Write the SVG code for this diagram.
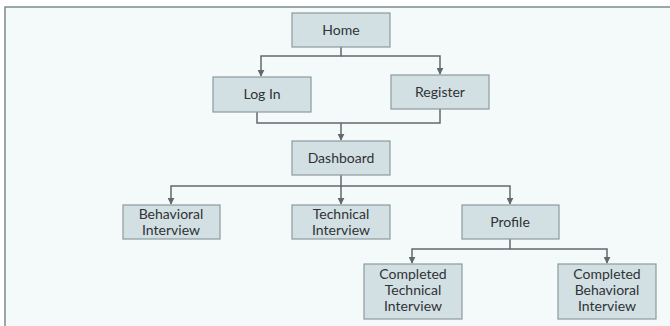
<svg xmlns="http://www.w3.org/2000/svg" width="670" height="326" viewBox="0 0 670 326">
<defs>
<style>
.box{fill:#d2dfe3;stroke:#8c9a9d;stroke-width:1.2}
.t{font-family:Lato,"Open Sans","Liberation Sans",sans-serif;font-size:14px;fill:#2f3335;text-anchor:middle}
.c{fill:none;stroke:#5f6a6d;stroke-width:1.5}
</style>
<marker id="ah" viewBox="0 0 10 10" refX="9" refY="5" markerWidth="7" markerHeight="7" markerUnits="userSpaceOnUse" orient="auto"><path d="M0,0 L10,5 L0,10 z" fill="#5f6a6d"/></marker>
</defs>
<rect x="0" y="0" width="670" height="326" fill="#ffffff"/>
<rect x="5" y="7" width="680" height="330" fill="#f4f9f9" stroke="#7d8a8c" stroke-width="1.5"/>
<g id="connectors">
<path class="c" d="M341,47 V56 H261 V76" marker-end="url(#ah)"/>
<path class="c" d="M341,56 H440 V74" marker-end="url(#ah)"/>
<path class="c" d="M257,112 V123 H440 V109"/>
<path class="c" d="M341,123 V140" marker-end="url(#ah)"/>
<path class="c" d="M341,175 V186 H171 V204" marker-end="url(#ah)"/>
<path class="c" d="M341,186 V204" marker-end="url(#ah)"/>
<path class="c" d="M341,186 H510 V204" marker-end="url(#ah)"/>
<path class="c" d="M510,239 V249 H412 V263" marker-end="url(#ah)"/>
<path class="c" d="M510,249 H607 V263" marker-end="url(#ah)"/>
</g>
<g id="home"><rect class="box" x="292" y="13" width="98" height="34"/><text class="t" x="341" y="35">Home</text></g>
<g id="login"><rect class="box" x="213" y="77" width="98" height="35"/><text class="t" x="262" y="99">Log In</text></g>
<g id="register"><rect class="box" x="391" y="75" width="98" height="34"/><text class="t" x="440" y="97">Register</text></g>
<g id="dashboard"><rect class="box" x="292" y="141" width="98" height="34"/><text class="t" x="341" y="163">Dashboard</text></g>
<g id="behavioral"><rect class="box" x="123" y="205" width="97" height="34"/><text class="t" x="171" y="219">Behavioral</text><text class="t" x="171" y="235">Interview</text></g>
<g id="technical"><rect class="box" x="292" y="205" width="98" height="34"/><text class="t" x="341" y="219">Technical</text><text class="t" x="341" y="235">Interview</text></g>
<g id="profile"><rect class="box" x="462" y="205" width="97" height="34"/><text class="t" x="510" y="227">Profile</text></g>
<g id="completed-technical"><rect class="box" x="364" y="264" width="98" height="55"/><text class="t" x="413" y="279">Completed</text><text class="t" x="413" y="295">Technical</text><text class="t" x="413" y="311">Interview</text></g>
<g id="completed-behavioral"><rect class="box" x="558" y="264" width="98" height="55"/><text class="t" x="607" y="279">Completed</text><text class="t" x="607" y="295">Behavioral</text><text class="t" x="607" y="311">Interview</text></g>
</svg>
